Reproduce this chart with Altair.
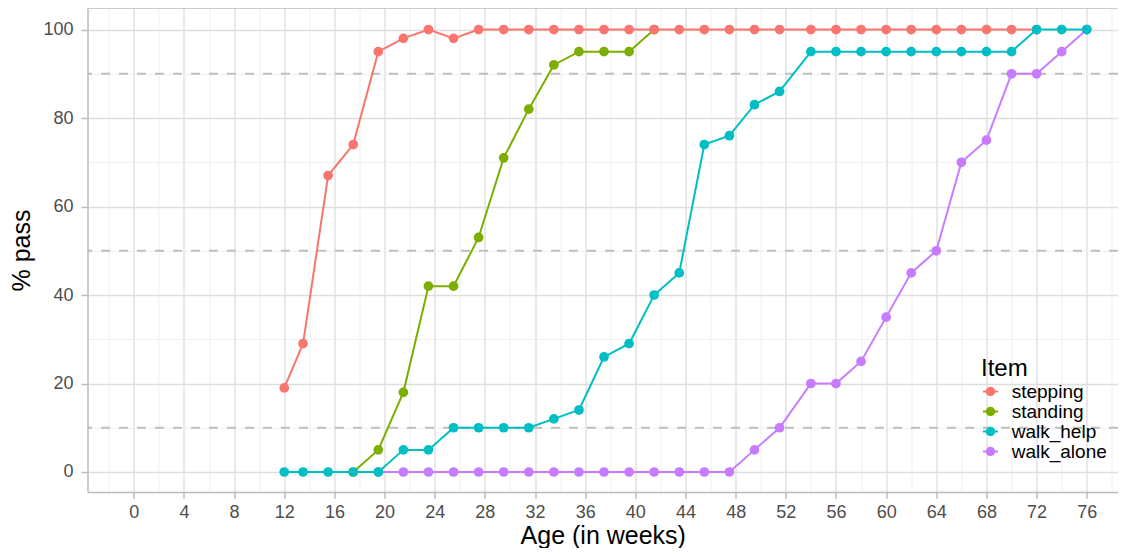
import altair as alt
import pandas as pd

# ---------------- data ----------------
# None = no visible value for that item at that age
ages = [12, 13.5, 15.5, 17.5, 19.5, 21.5, 23.5, 25.5, 27.5, 29.5, 31.5, 33.5,
        35.5, 37.5, 39.5, 41.5, 43.5, 45.5, 47.5, 49.5, 51.5, 54, 56, 58, 60,
        62, 64, 66, 68, 70, 72, 74, 76]
stepping = [19, 29, 67, 74, 95, 98, 100, 98, 100, 100, 100, 100, 100, 100, 100,
            100, 100, 100, 100, 100, 100, 100, 100, 100, 100, 100, 100, 100, 100,
            100, 100, None, None]
standing = [None, None, None, 0, 5, 18, 42, 42, 53, 71, 82, 92, 95, 95, 95, 100,
            None, None, None, None, None, None, None, None, None, None, None, None,
            None, None, None, None, None]
walk_help = [0, 0, 0, 0, 0, 5, 5, 10, 10, 10, 10, 12, 14, 26, 29, 40, 45, 74,
             76, 83, 86, 95, 95, 95, 95, 95, 95, 95, 95, 95, 100, 100, 100]
walk_alone = [None, None, None, None, 0, 0, 0, 0, 0, 0, 0, 0, 0, 0, 0, 0, 0, 0,
              0, 5, 10, 20, 20, 25, 35, 45, 50, 70, 75, 90, 90, 95, 100]

items = ["stepping", "standing", "walk_help", "walk_alone"]
colors = ["#F8766D", "#7CAE00", "#00BFC4", "#C77CFF"]
draw_order = ["standing", "walk_alone", "stepping", "walk_help"]

x_grid = list(range(-2, 80, 2))
y_grid = list(range(0, 101, 10))
ref_lines = [10, 50, 90]

series = {"stepping": stepping, "standing": standing,
          "walk_help": walk_help, "walk_alone": walk_alone}
rows = []
for item in draw_order:
    for a, v in zip(ages, series[item]):
        if v is not None:
            rows.append({"Age": a, "pass": v, "Item": item})
df = pd.DataFrame(rows)

# ---------------- layout ----------------
W, H = 1030.5, 484
FONT = "Liberation Sans"
BORDER = "#BDBDBD"
MAJOR = "#DEDEDE"
MINOR = "#EEEEEE"

x_major_test = "datum.value % 4 === 0 && datum.value >= 0 && datum.value <= 76"
y_major_test = "datum.value % 20 === 0"

x_enc = alt.X(
    "Age:Q",
    scale=alt.Scale(domain=[-3.69, 78.49], nice=False, zero=False),
    axis=alt.Axis(
        values=x_grid,
        title="Age (in weeks)",
        labelExpr="(" + x_major_test + ") ? datum.label : ''",
        labelOverlap=False,
        labelFlush=False,
        labelFont=FONT, labelFontSize=18, labelColor="#4D4D4D", labelPadding=5,
        tickSize=6.5, tickWidth=1.5, tickColor=BORDER,
        tickOpacity={"condition": {"test": x_major_test, "value": 1}, "value": 0},
        domainColor=BORDER, domainWidth=1.5,
        grid=True,
        gridColor={"condition": {"test": x_major_test, "value": MAJOR}, "value": MINOR},
        gridWidth={"condition": {"test": x_major_test, "value": 1.3}, "value": 0.9},
        titleFont=FONT, titleFontSize=25, titleFontWeight="normal", titleColor="black",
        titleBaseline="alphabetic", titleY=51,
    ),
)

y_enc = alt.Y(
    "pass:Q",
    scale=alt.Scale(domain=[-4.52, 104.86], nice=False, zero=False),
    axis=alt.Axis(
        values=y_grid,
        title="% pass",
        labelExpr="(" + y_major_test + ") ? datum.label : ''",
        labelOverlap=False,
        labelFlush=False,
        labelFont=FONT, labelFontSize=18, labelColor="#4D4D4D", labelPadding=8,
        tickSize=6.5, tickWidth=1.5, tickColor=BORDER,
        tickOpacity={"condition": {"test": y_major_test, "value": 1}, "value": 0},
        domainColor=BORDER, domainWidth=1.5,
        grid=True,
        gridColor={"condition": {"test": y_major_test, "value": MAJOR}, "value": MINOR},
        gridWidth={"condition": {"test": y_major_test, "value": 1.3}, "value": 0.9},
        titleFont=FONT, titleFontSize=25, titleFontWeight="normal", titleColor="black",
        titleBaseline="alphabetic", titleX=-58.5,
    ),
)

SYMBOL = ("M-1,0L-0.5,0M0.5,0L1,0"
          "M-0.5,0A0.5,0.5,0,1,1,0.5,0A0.5,0.5,0,1,1,-0.5,0Z")

legend = alt.Legend(
    orient="none", legendX=893.5, legendY=349,
    title="Item",
    titleFont=FONT, titleFontSize=24, titleFontWeight="normal", titleColor="black",
    titlePadding=1,
    labelFont=FONT, labelFontSize=19, labelColor="black", labelOffset=11.7,
    symbolType=SYMBOL, symbolSize=225, symbolStrokeWidth=2, symbolOpacity=1,
    rowPadding=0, padding=0,
)

color_enc = alt.Color("Item:N", scale=alt.Scale(domain=items, range=colors), legend=legend)

base = alt.Chart(df)

refs = alt.Chart(pd.DataFrame({"pass": ref_lines})).mark_rule(
    color="#BEBEBE", strokeWidth=2, strokeDash=[9, 9]
).encode(y="pass:Q")

lines = base.mark_line(strokeWidth=2).encode(x=x_enc, y=y_enc, color=color_enc)
points = base.mark_circle(size=95, opacity=1).encode(x=x_enc, y=y_enc, color=color_enc)

top_border = alt.Chart(pd.DataFrame({"pass": [0]})).mark_rule(
    color=BORDER, strokeWidth=1.5
).encode(x=alt.value(0), x2=alt.value(W), y=alt.value(0))

chart = alt.layer(refs, lines, points, top_border).properties(
    width=W, height=H,
    autosize=alt.AutoSizeParams(type="none"),
    padding={"left": 79.5, "top": 0, "right": 0, "bottom": 56},
    background="white",
).configure_view(stroke=None)

chart.save("out.html", embed_options={"renderer": "svg", "actions": False})
